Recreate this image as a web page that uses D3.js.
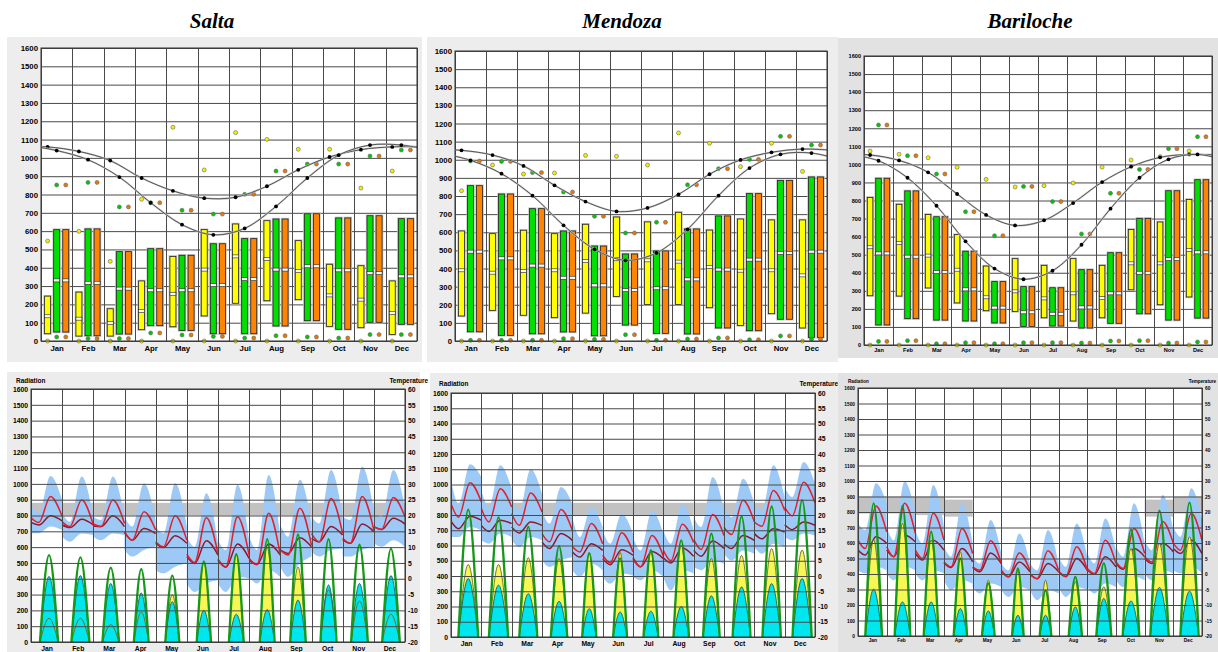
<!DOCTYPE html>
<html>
<head>
<meta charset="utf-8">
<script src="https://cdn.jsdelivr.net/npm/d3@7"></script>
<style>
  body { margin: 0; background: #fff; }
  svg { display: block; }
</style>
</head>
<body>
<svg id="chart" width="1218" height="652"></svg>
<script>
// ---------- DATA ----------
const months = ["Jan","Feb","Mar","Apr","May","Jun","Jul","Aug","Sep","Oct","Nov","Dec"];
const cities = ["Salta","Mendoza","Bariloche"];

// top charts: monthly radiation boxes (yellow / green / orange), W/m2
const saltaYelLow  = [40,27,27,62,78,137,206,220,226,80,73,36];
const saltaYelHigh = [245,267,176,328,462,608,639,657,548,419,411,328];
const saltaYelMed  = [135,122,98,164,258,390,462,448,382,249,226,153];
const saltaYelMax  = [546,599,435,774,1167,934,1138,1101,1047,1047,835,928];
const saltaYelMin  = [0,0,0,0,0,0,0,0,0,0,0,0];
const saltaGrnLow  = [49,29,38,84,58,40,40,82,111,64,102,91];
const saltaGrnHigh = [608,612,488,504,468,531,559,666,695,672,684,668];
const saltaGrnMed  = [331,318,286,277,277,306,338,390,408,386,371,353];
const saltaGrnMax  = [852,866,732,755,714,693,801,928,966,966,1010,1043];
const saltaGrnMin  = [22,13,13,44,33,25,16,29,22,16,35,35];
const saltaCurveA  = [1060,1035,985,890,820,780,785,845,935,1005,1045,1060];
const saltaCurveB  = [1040,990,895,755,635,580,615,735,890,1015,1070,1070];

const mendozaYelLow  = [138,169,142,129,154,246,202,202,184,86,151,72];
const mendozaYelHigh = [607,592,611,592,644,684,657,710,612,673,668,668];
const mendozaYelMed  = [390,377,386,390,441,451,445,438,408,388,390,362];
const mendozaYelMax  = [829,971,921,927,1024,1019,971,1148,1091,962,1091,936];
const mendozaYelMin  = [0,0,0,0,0,0,0,0,0,0,0,0];
const mendozaGrnLow  = [51,31,40,50,29,88,42,39,72,57,120,20];
const mendozaGrnHigh = [857,811,730,607,524,480,497,618,690,813,885,905];
const mendozaGrnMed  = [493,456,416,349,307,281,291,340,394,449,486,493];
const mendozaGrnMax  = [993,991,929,822,688,596,655,862,951,1002,1129,1081];
const mendozaGrnMin  = [4,4,4,13,9,35,4,11,17,7,28,9];
const mendozaCurveA  = [1052,1026,966,859,769,715,734,809,920,999,1041,1059];
const mendozaCurveB  = [997,923,802,638,506,445,486,616,802,954,1030,1037];

const barilocheYelLow  = [273,271,316,233,190,186,151,133,151,306,223,266];
const barilocheYelHigh = [817,779,723,611,437,478,441,478,441,640,681,806];
const barilocheYelMed  = [541,565,495,417,264,297,258,286,260,452,452,526];
const barilocheYelMax  = [1074,1056,1037,984,917,875,882,897,985,1024,1043,1074];
const barilocheYelMin  = [0,0,0,0,0,0,0,0,0,0,0,0];
const barilocheGrnLow  = [111,146,138,133,122,103,105,94,120,173,138,149];
const barilocheGrnHigh = [923,853,710,519,351,323,317,417,511,701,854,915];
const barilocheGrnMed  = [507,489,404,308,207,181,173,208,286,400,476,513];
const barilocheGrnMax  = [1218,1048,947,738,605,878,794,615,840,972,1087,1153];
const barilocheGrnMin  = [20,24,7,13,7,13,13,11,22,24,11,17];
const barilocheCurveA  = [1052,1022,956,836,720,662,690,786,902,987,1039,1055];
const barilocheCurveB  = [1020,926,771,574,423,364,411,555,755,926,1028,1055];

// bottom charts: average day per month
// radiation bells: sunrise / sunset hour and peak (W/m2)
const saltaRise   = [6.9,7.1,7.0,7.2,7.4,7.6,8.4,8.2,7.6,6.9,6.5,6.4];
const saltaSet    = [20.9,21.0,19.8,18.6,18.2,18.6,19.8,19.6,19.6,19.3,19.4,20.0];
const saltaGlobal = [550,535,470,460,420,510,555,650,680,650,615,590];
const saltaDirect = [150,150,110,190,300,500,555,600,475,330,260,175];
const saltaDiffuse= [415,420,370,310,255,200,175,205,265,360,370,420];

const mendozaRise   = [5.8,6.0,6.0,7.0,7.8,8.3,8.3,8.0,7.4,6.8,6.4,6.2];
const mendozaSet    = [21.5,21.2,20.3,20.0,19.0,19.3,20.0,20.3,20.6,21.0,21.0,21.4];
const mendozaGlobal = [835,785,722,596,549,515,570,634,678,791,857,898];
const mendozaDirect = [475,475,520,515,555,555,555,600,515,535,580,570];
const mendozaDiffuse= [383,340,284,234,186,164,169,200,270,328,350,383];

const barilocheRise   = [6.1,6.7,7.0,8.1,7.8,9.0,8.1,8.4,7.5,5.6,4.7,5.9];
const barilocheSet    = [20.1,19.8,19.5,19.3,18.4,18.7,17.9,19.5,20.1,19.5,20.1,21.2];
const barilocheGlobal = [856,839,673,500,339,436,295,382,468,688,809,860];
const barilocheDirect = [620,727,619,543,360,425,360,349,317,565,597,640];
const barilocheDiffuse= [302,220,220,177,162,134,134,188,242,226,313,289];

// temperatures (°C) at hours 0, 6, 15, 24 of each month's average day
const hoursT = [0, 6, 15, 24];
const saltaTMax = [[19.3,17.8,26.0,19.7],[18.0,16.5,24.9,17.0],[17.3,16.5,24.9,17.5],[14.9,12.2,21.2,15.4],[11.7,10.1,19.9,12.2],[7.8,5.2,19.3,8.0],[6.2,3.8,19.6,7.5],[6.4,4.5,20.7,7.5],[9.1,7.5,22.3,10.6],[14.3,11.7,25.4,14.3],[12.8,11.2,26.0,15.4],[16.5,15.6,25.7,19.6]];
const saltaTMean = [[17.8,17.0,19.9,18.3],[17.0,16.2,18.8,17.0],[16.7,16.5,19.9,16.5],[14.6,12.2,15.9,14.3],[11.2,9.9,13.6,11.2],[7.0,4.8,12.0,7.5],[5.9,3.6,11.0,6.4],[5.9,4.5,11.0,7.5],[9.1,8.0,13.0,10.1],[12.8,11.7,16.5,13.8],[12.4,11.2,17.3,14.9],[16.5,15.6,19.1,17.3]];
const saltaTHigh = [[23.9,20.7,32.5,24.9],[20.7,18.0,32.3,19.6],[19.6,18.6,32.3,19.6],[19.6,16.5,30.2,18.6],[16.5,14.3,30.2,16.5],[13.3,10.1,27.0,11.2],[12.2,9.1,29.7,12.2],[13.3,9.1,32.8,13.3],[17.0,13.3,31.3,17.5],[19.6,17.5,34.4,19.6],[19.6,18.6,35.5,21.8],[20.7,19.6,34.4,22.8]];
const saltaTLow = [[14.4,14.4,16.5,15.4],[13.3,11.7,14.3,13.8],[13.3,12.2,14.3,13.8],[9.1,7.0,9.1,10.1],[2.7,1.7,3.8,4.8],[-1.5,-4.2,-1.5,-0.5],[-1.5,-4.2,0.6,0.1],[0.6,-1.5,2.7,0.6],[3.8,0.6,4.8,7.0],[8.5,7.0,9.1,9.6],[7.0,7.0,9.1,10.1],[11.2,10.1,12.2,10.1]];
const saltaComfortLo = [20,20,20,20,20,20,20,20,20,20,20,20];
const saltaComfortHi = [24,24,24,24,24,24,24,24,24,24,24,24];

const mendozaTMax = [[23.7,19.3,30.6,24.3],[22.1,17.7,28.6,22.6],[20.4,16.6,27.2,21.0],[13.9,11.2,21.8,15.0],[9.7,7.9,17.2,10.6],[6.8,4.3,14.2,7.9],[5.5,3.0,13.3,6.5],[8.4,5.0,17.0,11.0],[12.0,8.7,20.2,13.3],[16.0,13.6,24.8,17.8],[17.7,16.3,28.0,21.5],[22.6,19.7,30.7,24.0]];
const mendozaTMean = [[18.0,15.5,19.6,18.3],[16.6,14.6,18.3,17.2],[16.1,14.1,17.7,16.6],[11.2,9.0,13.9,11.7],[7.9,6.2,10.6,8.4],[5.7,3.7,8.6,6.8],[6.0,3.0,8.0,5.7],[6.0,4.3,9.2,6.5],[8.4,6.5,11.5,9.0],[10.6,9.0,13.3,11.7],[13.9,12.2,15.5,14.4],[16.8,15.2,17.7,16.6]];
const mendozaTHigh = [[31.4,23.7,36.6,32.5],[28.1,22.6,36.3,28.6],[25.9,21.5,35.0,27.0],[21.5,17.2,29.2,23.7],[19.3,12.8,22.6,16.1],[15.0,10.6,20.4,13.9],[12.8,8.4,21.5,13.9],[15.0,10.6,23.7,15.0],[19.3,16.1,32.5,21.5],[23.7,19.3,31.9,23.7],[23.7,21.5,36.3,25.9],[29.2,25.9,37.4,30.3]];
const mendozaTLow = [[12.8,12.8,16.1,15.0],[11.7,10.6,13.9,12.8],[11.7,9.5,12.8,11.7],[5.1,3.0,5.1,6.2],[1.9,-0.3,4.0,1.9],[-0.3,-2.5,0.8,0.2],[-0.3,-1.4,1.9,-0.3],[-0.3,-4.7,1.9,0.8],[3.0,1.9,5.1,4.0],[7.3,5.1,8.4,7.3],[9.5,7.3,10.6,9.5],[12.8,11.7,13.9,13.3]];
const mendozaComfortLo = [20,20,20,20,20,20,20,20,20,20,20,20];
const mendozaComfortHi = [24,24,24,24,24,24,24,24,24,24,24,24];

const barilocheTMax = [[10.9,8.2,21.9,13.6],[8.8,5.6,22.8,13.1],[7.7,5.0,19.6,10.9],[3.9,2.3,14.7,6.6],[2.3,1.2,10.7,3.4],[1.2,-0.9,6.8,1.2],[-0.1,-1.5,7.5,1.2],[1.0,-0.7,8.8,1.2],[1.8,0.2,10.9,3.4],[3.9,1.8,14.7,6.6],[5.6,3.9,16.9,9.9],[9.9,7.7,19.6,10.9]];
const barilocheTMean = [[7.7,6.1,12.0,9.9],[7.7,5.6,12.6,10.4],[6.6,4.5,10.9,7.7],[3.6,2.1,8.2,3.9],[2.1,0.7,6.8,3.4],[0.9,-0.9,3.9,0.7],[-0.1,-1.5,3.4,0.7],[0.7,-0.9,5.0,1.2],[1.2,-0.1,5.6,2.3],[3.4,1.5,8.2,5.6],[5.0,3.4,9.9,7.2],[8.2,6.6,10.9,6.6]];
const barilocheTHigh = [[16.3,14.2,29.3,22.8],[15.2,10.9,29.8,19.6],[14.2,9.9,28.7,15.2],[8.8,5.6,22.8,9.9],[5.6,3.4,17.4,6.6],[3.4,1.2,13.1,3.4],[3.4,1.2,14.2,3.4],[5.6,2.3,16.3,5.6],[6.6,3.4,17.9,7.7],[8.8,5.6,22.8,9.9],[10.9,7.7,25.5,14.2],[15.2,12.0,27.7,17.4]];
const barilocheTLow = [[1.2,0.2,2.3,1.2],[0.2,-2.0,2.3,1.2],[0.2,-2.0,1.2,0.2],[-2.0,-5.2,-2.0,-3.1],[-4.2,-6.3,-3.1,-4.2],[-5.2,-7.4,-4.2,-5.2],[-5.2,-8.5,-5.2,-6.3],[-4.2,-7.4,-4.2,-5.2],[-4.2,-6.3,-3.1,-4.2],[-2.0,-4.2,-0.9,-2.0],[0.2,-2.0,1.2,0.2],[1.2,0.2,2.3,0.2]];
const barilocheComfortLo = [19.5,19.5,19,18.5,null,null,null,null,null,null,18.5,19.5];
const barilocheComfortHi = [25,25,25,24,null,null,null,null,null,null,24,25];

// ---------- LAYOUT ----------
const font = "'Liberation Sans', Arial, sans-serif";
const layout = {
  Salta:     { titleX: 212, top: {panel:[7,37,422,362],  plot:[41,48,417,341],  fs:7.8, bg:"#ededed"},
               bot: {panel:[7,372,420,652],  plot:[31,389,405,642], fs:6.8, bg:"#ececec", radY:383, tempEnd:428, tempY:383} },
  Mendoza:   { titleX: 622, top: {panel:[427,37,838,362], plot:[455,51,827,341], fs:7.8, bg:"#ededed"},
               bot: {panel:[430,373,838,652], plot:[451,393,815,637], fs:6.8, bg:"#ececec", radY:386, tempEnd:838, tempY:386} },
  Bariloche: { titleX: 1030, top: {panel:[838,38,1218,358], plot:[864,56,1212,345], fs:5.6, bg:"#e2e2e2"},
               bot: {panel:[838,373,1218,652], plot:[858,388,1202,636], fs:4.8, bg:"#e2e2e2", radY:383, tempEnd:1216, tempY:383} }
};

const topData = {
  Salta: { yel:{low:saltaYelLow,high:saltaYelHigh,med:saltaYelMed,max:saltaYelMax,min:saltaYelMin},
           grn:{low:saltaGrnLow,high:saltaGrnHigh,med:saltaGrnMed,max:saltaGrnMax,min:saltaGrnMin},
           a:saltaCurveA, b:saltaCurveB },
  Mendoza: { yel:{low:mendozaYelLow,high:mendozaYelHigh,med:mendozaYelMed,max:mendozaYelMax,min:mendozaYelMin},
             grn:{low:mendozaGrnLow,high:mendozaGrnHigh,med:mendozaGrnMed,max:mendozaGrnMax,min:mendozaGrnMin},
             a:mendozaCurveA, b:mendozaCurveB },
  Bariloche: { yel:{low:barilocheYelLow,high:barilocheYelHigh,med:barilocheYelMed,max:barilocheYelMax,min:barilocheYelMin},
               grn:{low:barilocheGrnLow,high:barilocheGrnHigh,med:barilocheGrnMed,max:barilocheGrnMax,min:barilocheGrnMin},
               a:barilocheCurveA, b:barilocheCurveB }
};
const botData = {
  Salta: {rise:saltaRise,set:saltaSet,glob:saltaGlobal,dir:saltaDirect,dif:saltaDiffuse,
          tmax:saltaTMax,tmean:saltaTMean,thigh:saltaTHigh,tlow:saltaTLow,clo:saltaComfortLo,chi:saltaComfortHi},
  Mendoza: {rise:mendozaRise,set:mendozaSet,glob:mendozaGlobal,dir:mendozaDirect,dif:mendozaDiffuse,
          tmax:mendozaTMax,tmean:mendozaTMean,thigh:mendozaTHigh,tlow:mendozaTLow,clo:mendozaComfortLo,chi:mendozaComfortHi},
  Bariloche: {rise:barilocheRise,set:barilocheSet,glob:barilocheGlobal,dir:barilocheDirect,dif:barilocheDiffuse,
          tmax:barilocheTMax,tmean:barilocheTMean,thigh:barilocheTHigh,tlow:barilocheTLow,clo:barilocheComfortLo,chi:barilocheComfortHi}
};

const svg = d3.select("#chart");
const plain = v => String(v);   // "1600", "-20" (plain hyphen, no grouping)
let clipId = 0;

function panelAndPlot(g, L) {
  const [px0, py0, px1, py1] = L.panel;
  g.append("rect").attr("x", px0).attr("y", py0).attr("width", px1 - px0).attr("height", py1 - py0).attr("fill", L.bg);
  const [x0, y0, x1, y1] = L.plot;
  g.append("rect").attr("x", x0).attr("y", y0).attr("width", x1 - x0).attr("height", y1 - y0).attr("fill", "#fff");
  const id = "clip" + (clipId++);
  svg.append("clipPath").attr("id", id).append("rect").attr("x", x0).attr("y", y0).attr("width", x1 - x0).attr("height", y1 - y0);
  return id;
}

function grid(g, L, x, y) {
  const [x0, y0, x1, y1] = L.plot;
  g.append("g").selectAll("line").data(d3.range(0, 1601, 100)).join("line")
    .attr("x1", x0).attr("x2", x1).attr("y1", v => y(v) + 0.5).attr("y2", v => y(v) + 0.5)
    .attr("stroke", "#4a4a4a").attr("stroke-width", 1);
  g.append("g").selectAll("line").data(d3.range(0, 13)).join("line")
    .attr("x1", m => Math.round(x(m)) + 0.5).attr("x2", m => Math.round(x(m)) + 0.5).attr("y1", y0).attr("y2", y1)
    .attr("stroke", "#4a4a4a").attr("stroke-width", 1);
}

function styleAxis(ax, fs) {
  ax.attr("font-family", font).attr("font-size", fs).attr("font-weight", "bold");
  ax.select(".domain").remove();
  ax.selectAll("text").attr("fill", "#000");
}

function monthAxis(g, L, x) {
  const ax = g.append("g").attr("transform", `translate(0,${L.plot[3]})`)
    .call(d3.axisBottom(x).tickValues(d3.range(12).map(i => i + 0.5)).tickFormat((v, i) => months[i]).tickSize(0).tickPadding(L.fs * 0.55));
  styleAxis(ax, L.fs);
}

// ---------- TOP: monthly radiation boxes ----------
function drawTop(name) {
  const L = layout[name].top, d = topData[name];
  const g = svg.append("g");
  const cid = panelAndPlot(g, L);
  const [x0, y0, x1, y1] = L.plot;
  const x = d3.scaleLinear().domain([0, 12]).range([x0, x1]);
  const y = d3.scaleLinear().domain([0, 1600]).range([y1, y0]);
  grid(g, L, x, y);

  const ax = g.append("g").attr("transform", `translate(${x0},0)`)
    .call(d3.axisLeft(y).tickValues(d3.range(0, 1601, 100)).tickFormat(plain).tickSize(0).tickPadding(3));
  styleAxis(ax, L.fs);
  monthAxis(g, L, x);

  const off = 0.29, bw = 0.19 * (x(1) - x(0));
  // orange boxes repeat the green values in the source chart
  const series = [
    { s: d.yel, k: -1, fill: "#ffff00", dot: "#f2f200" },
    { s: d.grn, k: 0,  fill: "#00e000", dot: "#00c800" },
    { s: d.grn, k: 1,  fill: "#ff8400", dot: "#e87800" }
  ];
  series.forEach(sr => {
    const cx = i => x(i + 0.5 + sr.k * off);
    const bg = g.append("g");
    bg.selectAll(".halo").data(months).join("rect")
      .attr("x", (m, i) => cx(i) - bw / 2).attr("y", (m, i) => y(sr.s.high[i]))
      .attr("width", bw).attr("height", (m, i) => y(sr.s.low[i]) - y(sr.s.high[i]))
      .attr("fill", sr.fill).attr("stroke", "#bdbdbd").attr("stroke-width", 2.4);
    bg.selectAll(".box").data(months).join("rect")
      .attr("x", (m, i) => cx(i) - bw / 2).attr("y", (m, i) => y(sr.s.high[i]))
      .attr("width", bw).attr("height", (m, i) => y(sr.s.low[i]) - y(sr.s.high[i]))
      .attr("fill", sr.fill).attr("stroke", "#222").attr("stroke-width", 0.8);
    bg.selectAll(".med").data(months).join("rect")
      .attr("x", (m, i) => cx(i) - bw / 2).attr("y", (m, i) => y(sr.s.med[i]) - 1.5)
      .attr("width", bw).attr("height", 3)
      .attr("fill", "#fff").attr("stroke", "#222").attr("stroke-width", 0.6);
    ["max", "min"].forEach(key => {
      bg.selectAll("." + key).data(months).join("circle")
        .attr("cx", (m, i) => cx(i)).attr("cy", (m, i) => y(sr.s[key][i]))
        .attr("r", 2).attr("fill", sr.dot).attr("stroke", "#666").attr("stroke-width", 0.6);
    });
  });

  // two annual curves with monthly points (wrapped at the year ends)
  [{ v: d.a, k: -1 }, { v: d.b, k: 0 }].forEach(c => {
    const pts = [{ m: -1, v: c.v[11] }].concat(c.v.map((v, i) => ({ m: i, v })), [{ m: 12, v: c.v[0] }]);
    const px = p => x(p.m + 0.5 + c.k * off);
    const path = d3.line().x(px).y(p => y(p.v)).curve(d3.curveCatmullRom)(pts);
    g.append("path").attr("clip-path", `url(#${cid})`).attr("d", path)
      .attr("fill", "none").attr("stroke", "#c4c4c4").attr("stroke-width", 1.8);
    g.append("path").attr("clip-path", `url(#${cid})`).attr("d", path)
      .attr("fill", "none").attr("stroke", "#3a3a3a").attr("stroke-width", 0.8);
    g.append("g").selectAll("circle").data(pts.slice(1, 13)).join("circle")
      .attr("cx", px).attr("cy", p => y(p.v)).attr("r", 1.9).attr("fill", "#000");
  });

  g.append("rect").attr("x", x0).attr("y", y0).attr("width", x1 - x0).attr("height", y1 - y0)
    .attr("fill", "none").attr("stroke", "#333").attr("stroke-width", 1);
}

// ---------- BOTTOM: average day per month ----------
function drawBottom(name) {
  const L = layout[name].bot, d = botData[name];
  const g = svg.append("g");
  const cid = panelAndPlot(g, L);
  const [x0, y0, x1, y1] = L.plot;
  const x = d3.scaleLinear().domain([0, 12]).range([x0, x1]);
  const yR = d3.scaleLinear().domain([0, 1600]).range([y1, y0]);
  const yT = d3.scaleLinear().domain([-20, 60]).range([y1, y0]);
  const hx = (i, h) => x(i + h / 24);
  const pg = g.append("g").attr("clip-path", `url(#${cid})`);

  // comfort band
  pg.selectAll("rect.comfort").data(d3.range(12).filter(i => d.clo[i] != null)).join("rect")
    .attr("x", i => x(i)).attr("width", x(1) - x(0))
    .attr("y", i => yT(d.chi[i])).attr("height", i => yT(d.clo[i]) - yT(d.chi[i]))
    .attr("fill", "#c2c2c2");

  d3.range(12).forEach(i => {
    const pts = hoursT.map((h, j) => ({ h, hi: d.thigh[i][j], lo: d.tlow[i][j] }));
    pg.append("path")
      .attr("d", d3.area().x(p => hx(i, p.h)).y0(p => yT(p.lo)).y1(p => yT(p.hi)).curve(d3.curveMonotoneX)(pts))
      .attr("fill", "#9dc9f6");
  });
  d3.range(12).forEach(i => {
    const pts = hoursT.map((h, j) => ({ h, mx: d.tmax[i][j], mn: d.tmean[i][j] }));
    pg.append("path")
      .attr("d", d3.line().x(p => hx(i, p.h)).y(p => yT(p.mn)).curve(d3.curveMonotoneX)(pts))
      .attr("fill", "none").attr("stroke", "#8c1b30").attr("stroke-width", 1.5);
    pg.append("path")
      .attr("d", d3.line().x(p => hx(i, p.h)).y(p => yT(p.mx)).curve(d3.curveMonotoneX)(pts))
      .attr("fill", "none").attr("stroke", "#e3202e").attr("stroke-width", 1.5);
  });

  // radiation bells
  const bell = (i, peak) => [
    { h: d.rise[i], v: 0 }, { h: (d.rise[i] + d.set[i]) / 2, v: peak }, { h: d.set[i], v: 0 }
  ];
  const bellArea = i => d3.area().x(p => hx(i, p.h)).y0(yR(0)).y1(p => yR(p.v)).curve(d3.curveNatural);
  const bellLine = i => d3.line().x(p => hx(i, p.h)).y(p => yR(p.v)).curve(d3.curveNatural);
  d3.range(12).forEach(i => {
    pg.append("path").attr("d", bellArea(i)(bell(i, d.dir[i]))).attr("fill", "#f6f655");
    pg.append("path").attr("d", bellArea(i)(bell(i, d.dif[i]))).attr("fill", "#00e6ef");
    pg.append("path").attr("d", bellLine(i)(bell(i, d.dir[i]))).attr("fill", "none").attr("stroke", "#6e6a12").attr("stroke-width", 0.9);
    pg.append("path").attr("d", bellLine(i)(bell(i, d.dif[i]))).attr("fill", "none").attr("stroke", "#10606a").attr("stroke-width", 0.9);
    pg.append("path").attr("d", bellLine(i)(bell(i, d.glob[i]))).attr("fill", "none").attr("stroke", "#159a15").attr("stroke-width", 2.3);
  });

  grid(g, L, x, yR);
  g.append("rect").attr("x", x0).attr("y", y0).attr("width", x1 - x0).attr("height", y1 - y0)
    .attr("fill", "none").attr("stroke", "#333").attr("stroke-width", 1);

  const axL = g.append("g").attr("transform", `translate(${x0},0)`)
    .call(d3.axisLeft(yR).tickValues(d3.range(0, 1601, 100)).tickFormat(plain).tickSize(0).tickPadding(3));
  styleAxis(axL, L.fs);
  const axR = g.append("g").attr("transform", `translate(${x1},0)`)
    .call(d3.axisRight(yT).tickValues(d3.range(-20, 61, 5)).tickFormat(plain).tickSize(0).tickPadding(3));
  styleAxis(axR, L.fs);
  monthAxis(g, L, x);

  g.append("text").attr("x", L.panel[0] + (name === "Bariloche" ? 10 : 9)).attr("y", L.radY)
    .attr("font-family", font).attr("font-size", L.fs * 0.95).attr("font-weight", "bold").text("Radiation");
  g.append("text").attr("x", L.tempEnd).attr("y", L.tempY).attr("text-anchor", "end")
    .attr("font-family", font).attr("font-size", L.fs * 0.95).attr("font-weight", "bold").text("Temperature");
}

cities.forEach(c => {
  drawTop(c);
  drawBottom(c);
  svg.append("text").attr("x", layout[c].titleX).attr("y", 28).attr("text-anchor", "middle")
    .attr("font-family", "'Liberation Serif', 'Times New Roman', serif").attr("font-style", "italic")
    .attr("font-weight", "bold").attr("font-size", 21).text(c);
});
</script>
</body>
</html>
